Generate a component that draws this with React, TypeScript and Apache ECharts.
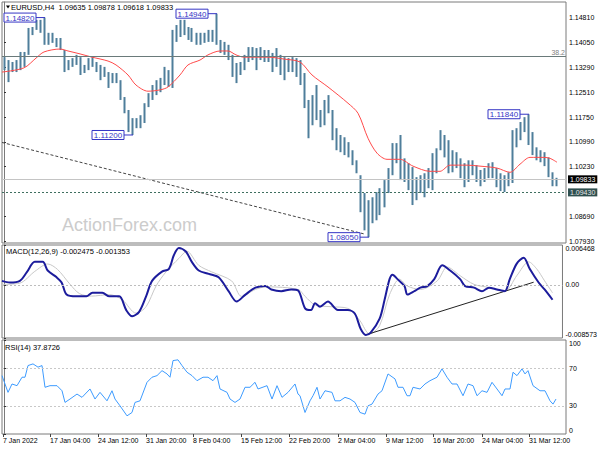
import React, { useEffect, useRef } from "react";
import * as echarts from "echarts";

const FONT = "'Liberation Sans', Arial, sans-serif";

const symbolName = "EURUSD,H4";
const lastBar = [1.09635, 1.09878, 1.09618, 1.09833];
const macdHeader = [-0.002475, -0.001353];
const rsiHeader = 37.8726;
const watermark = "ActionForex.com";
const barCount = 141;

// price bars (each column = one bar on the chart), highs and lows
const barHighs = [
  1.1360, 1.1351, 1.1345, 1.1351, 1.1376, 1.1376, 1.1450, 1.1453, 1.1475, 1.1475,
  1.1482, 1.1435, 1.1435, 1.1419, 1.1419, 1.1382, 1.1351, 1.1357, 1.1367, 1.1360,
  1.1336, 1.1357, 1.1360, 1.1345, 1.1336, 1.1330, 1.1314, 1.1311, 1.1311, 1.1289,
  1.1237, 1.1197, 1.1172, 1.1172, 1.1181, 1.1218, 1.1249, 1.1274, 1.1289, 1.1296,
  1.1330, 1.1320, 1.1444, 1.1459, 1.1475, 1.1475, 1.1453, 1.1450, 1.1435, 1.1435,
  1.1435, 1.1444, 1.1444, 1.1494, 1.1413, 1.1407, 1.1398, 1.1367, 1.1342, 1.1345,
  1.1367, 1.1391, 1.1391, 1.1388, 1.1391, 1.1382, 1.1382, 1.1373, 1.1388, 1.1367,
  1.1360, 1.1357, 1.1360, 1.1357, 1.1351, 1.1311, 1.1228, 1.1243, 1.1274, 1.1197,
  1.1228, 1.1243, 1.1197, 1.1141, 1.1120, 1.1113, 1.1098, 1.1073, 1.1042, 1.0996,
  1.0941, 1.0919, 1.0928, 1.0944, 1.0956, 1.0981, 1.1018, 1.1095, 1.1095, 1.1120,
  1.1048, 1.1033, 1.1021, 1.0990, 1.0996, 1.1002, 1.1018, 1.1064, 1.1079, 1.1135,
  1.1120, 1.1104, 1.1073, 1.1067, 1.1048, 1.1033, 1.1042, 1.1042, 1.1027, 1.1012,
  1.1018, 1.1033, 1.1036, 1.1018, 1.1002, 1.0996, 1.1005, 1.1135, 1.1141, 1.1160,
  1.1175, 1.1184, 1.1129, 1.1082, 1.1073, 1.1067, 1.1051, 1.1005, 1.0988,
];
const barLows = [
  1.1320, 1.1283, 1.1314, 1.1314, 1.1320, 1.1330, 1.1367, 1.1428, 1.1444, 1.1435,
  1.1398, 1.1398, 1.1404, 1.1391, 1.1382, 1.1314, 1.1320, 1.1330, 1.1336, 1.1305,
  1.1311, 1.1320, 1.1330, 1.1314, 1.1289, 1.1299, 1.1265, 1.1280, 1.1280, 1.1228,
  1.1187, 1.1129, 1.1120, 1.1141, 1.1141, 1.1157, 1.1206, 1.1228, 1.1243, 1.1252,
  1.1274, 1.1268, 1.1265, 1.1407, 1.1422, 1.1428, 1.1413, 1.1407, 1.1398, 1.1398,
  1.1404, 1.1407, 1.1407, 1.1398, 1.1373, 1.1367, 1.1351, 1.1299, 1.1280, 1.1305,
  1.1320, 1.1345, 1.1351, 1.1320, 1.1351, 1.1345, 1.1345, 1.1314, 1.1330, 1.1305,
  1.1289, 1.1314, 1.1314, 1.1299, 1.1274, 1.1203, 1.1110, 1.1150, 1.1166, 1.1144,
  1.1150, 1.1187, 1.1104, 1.1073, 1.1067, 1.1058, 1.1051, 1.1027, 1.1002, 1.0882,
  1.0826, 1.0805, 1.0848, 1.0857, 1.0873, 1.0897, 1.0941, 1.0996, 1.1033, 1.0981,
  1.0975, 1.0950, 1.0904, 1.0919, 1.0941, 1.0928, 1.0956, 1.0950, 1.1002, 1.1073,
  1.1051, 1.1002, 1.1005, 1.1018, 1.0987, 1.0959, 1.0975, 1.0996, 1.0975, 1.0962,
  1.0975, 1.0987, 1.0987, 1.0959, 1.0947, 1.0944, 1.0962, 1.0972, 1.1082, 1.1104,
  1.1129, 1.1089, 1.1058, 1.1042, 1.1036, 1.1024, 1.0990, 1.0962, 1.0962,
];

// moving average [bar index, price]
const maPoints = [
  [-0.5, 1.1314], [5, 1.1327], [8, 1.1357], [10, 1.1376], [14, 1.1385], [16, 1.1379],
  [19, 1.1370], [22, 1.1360], [26, 1.1348], [28, 1.1336], [31, 1.1305], [33, 1.1274],
  [36, 1.1255], [39, 1.1259], [41, 1.1268], [44, 1.1305], [46, 1.1336], [49, 1.1351],
  [51, 1.1367], [54, 1.1379], [56, 1.1379], [58, 1.1367], [60, 1.1360], [63, 1.1360],
  [66, 1.1360], [70, 1.1354], [74, 1.1345], [77, 1.1305], [81, 1.1268], [86, 1.1218],
  [88.5, 1.1187], [91, 1.1110], [93.25, 1.1064], [95.75, 1.1045], [99, 1.1045],
  [102.25, 1.1024], [106.5, 1.1008], [109, 1.1008], [111.5, 1.1027], [115.75, 1.1027],
  [119, 1.1024], [123.25, 1.1018], [126.5, 1.1005], [129, 1.1030], [131.5, 1.1051],
  [135, 1.1051], [136.5, 1.1048], [138.25, 1.1036],
];

// dotted support trendline [bar index, price]
const trendPoints = [[-0.5, 1.1097], [90, 1.0815]];

// horizontal levels
const lastPrice = 1.09833;
const supportLevel = 1.0943;
const fibLevel = 1.13617;
const fibLabel = "38.2";

// annotated extremes
const extremeBars = [10, 53, 32, 131, 91];
const extremePrices = [1.1482, 1.1494, 1.112, 1.1184, 1.0805];

// MACD main and signal [bar index, value]
const macdLine = [
  [-0.5, 0.00067], [1.5, 0.0004], [4, 0.00067], [5.75, 0.00207], [7.75, 0.00374], [9.75, 0.00374],
  [11, 0.00234], [13.25, 0.00124], [14.5, 0.0004], [15.75, -0.00155], [18.25, -0.00184],
  [20.75, -0.00184], [22.25, -0.00127], [24.75, -0.00127], [26.5, -0.00184], [29, -0.00184],
  [30.75, -0.00406], [32.25, -0.00506], [34, -0.00434], [35.75, -0.00184], [37.25, 0.00067],
  [39.75, 0.00217], [41.5, 0.00262], [42.75, 0.00485], [44, 0.00597], [45.75, 0.00541],
  [47.25, 0.00374], [49, 0.00234], [51.5, 0.00179], [54, 0.00124], [56.5, -0.001],
  [58.5, -0.00267], [60.75, -0.00155], [63.25, -0.00043], [65.75, -0.00017], [67.25, -0.00072],
  [69.75, -0.001], [72.25, -0.00072], [74, -0.00089], [75.75, -0.00378], [77.25, -0.00406],
  [78.25, -0.00294], [79.5, -0.00351], [81.5, -0.00267], [84, -0.00406], [86.5, -0.00406],
  [88.25, -0.00461], [89.75, -0.00712], [91, -0.00807], [92.25, -0.00769], [94.5, -0.00545],
  [95.75, -0.00239], [97, 0.00095], [97.75, 0.00167], [99, 0.00095], [100.75, -0.00017],
  [101.5, -0.00155], [103.25, -0.001], [104.75, -0.00043], [106.5, -0.00017], [108.25, 0.00095],
  [110.25, 0.00318], [112.25, 0.00234], [114.75, 0.00095], [116, -0.00017], [118.25, -0.00043],
  [120.25, -0.001], [122, -0.00043], [124, -0.00072], [126, -0.001], [127.25, 0.00095],
  [129, 0.00346], [130.75, 0.00441], [132.25, 0.00262], [134.5, 0.0004], [136, -0.00072],
  [138, -0.00239],
];
const macdSignal = [
  [-0.5, 0.0001], [4, 0.0003], [7.75, 0.0022], [11, 0.0034], [13.5, 0.0025], [16.5, 0.0002],
  [19, -0.0014], [22, -0.0018], [26.5, -0.00155], [29.75, -0.00239], [33.25, -0.00456],
  [35.75, -0.00351], [38.25, -0.00017], [40.75, 0.00212], [44, 0.0043], [46, 0.00546],
  [49, 0.00318], [52.25, 0.00212], [57.25, 0.00067], [59.75, -0.00184], [63.25, -0.00072],
  [66, -0.0003], [74, -0.00072], [75.75, -0.00184], [78.25, -0.00323], [82.25, -0.00351],
  [86.5, -0.00378], [89.5, -0.00573], [92, -0.00795], [94.5, -0.00657], [97, -0.00155],
  [99.5, 0.00095], [101.5, -0.00017], [104.75, -0.00072], [109, 0.00067], [111.5, 0.00291],
  [114.75, 0.0015], [118.25, 0.0001], [122.25, -0.00043], [126, -0.001], [129, 0.0015],
  [132, 0.00374], [134, 0.00262], [136, 0.00067], [138, -0.00127],
];
const macdTrend = [[91, -0.00807], [133.25, 0.00045]];

// RSI(14) [bar index, value]
const rsiLine = [
  [-0.5, 62.1], [1, 44.3], [2, 53.2], [3.25, 51.4], [4.5, 60.4], [5.25, 60.4], [6, 72.8],
  [7.25, 74.6], [8.5, 71.1], [9.5, 72.8], [10.25, 49.7], [11.5, 51.4], [13.25, 51.4],
  [14.5, 46.0], [15.25, 33.6], [16.5, 37.2], [18.25, 42.5], [19.5, 39.0], [21.5, 47.9],
  [22.75, 37.2], [24, 44.3], [25.75, 35.3], [27, 46.0], [27.75, 37.2], [29, 30.0],
  [30.75, 19.3], [32, 22.9], [32.75, 33.6], [34, 35.3], [35.75, 55.0], [37, 60.4],
  [38.25, 62.1], [39.5, 67.4], [40.75, 63.9], [41.5, 60.4], [42.25, 78.1], [43.5, 78.9],
  [44.5, 72.8], [45.75, 65.7], [47, 62.1], [48.25, 56.7], [49.75, 60.4], [51, 60.4],
  [52.25, 56.7], [53.25, 62.1], [54, 47.9], [55.75, 44.3], [56.5, 37.2], [57.75, 33.6],
  [59, 37.2], [60.25, 49.7], [61.5, 49.7], [62.75, 55.0], [63.5, 47.9], [65.75, 51.4],
  [67, 37.2], [68.25, 51.4], [69.5, 39.0], [71, 44.3], [72.75, 53.2], [73.5, 42.5],
  [74, 40.7], [75.25, 22.9], [76.5, 35.3], [77.25, 40.7], [78.25, 49.7], [79, 37.2],
  [80.25, 46.0], [82, 44.3], [82.75, 35.3], [84, 35.3], [85.25, 39.0], [86.5, 37.2],
  [87.75, 33.6], [89, 22.9], [90.25, 21.1], [91, 30.0], [92, 31.8], [93.5, 42.5],
  [94.5, 46.0], [96, 63.9], [97.75, 58.6], [98.5, 49.7], [99.75, 49.7], [100.75, 40.7],
  [101.5, 40.7], [102.25, 49.7], [104, 47.9], [105.25, 53.2], [106.5, 56.7], [108.25, 60.4],
  [109.5, 69.3], [110.75, 60.4], [112, 53.2], [113.25, 53.2], [114.75, 40.7], [116, 53.2],
  [117.25, 51.4], [118.25, 40.7], [119.5, 46.0], [120.75, 44.3], [122, 55.0], [123.25, 47.9],
  [124.5, 40.7], [125.25, 47.9], [126.5, 47.9], [127.25, 65.7], [128.25, 62.1], [129.5, 69.3],
  [130.25, 63.9], [131, 67.4], [132.25, 51.4], [134, 46.0], [135.25, 46.0], [136.5, 35.3],
  [137.25, 31.8], [138, 37.2],
];

// axis ticks
const priceTicks = [1.0793, 1.0869, 1.1023, 1.1099, 1.1175, 1.1251, 1.1329, 1.1405, 1.1481];
const macdTicks = [-0.008573, 0, 0.006468];
const rsiTicks = [0, 30, 70, 100];
const xTickBars = [-0.25, 11.5, 23.5, 35.5, 47.25, 59.25, 71.25, 83.5, 95.5, 107.25, 119.5, 131.25];
const xTickLabels = [
  "7 Jan 2022", "17 Jan 04:00", "24 Jan 12:00", "31 Jan 20:00", "8 Feb 04:00", "15 Feb 12:00",
  "22 Feb 20:00", "2 Mar 04:00", "9 Mar 12:00", "16 Mar 20:00", "24 Mar 04:00", "31 Mar 12:00",
];

const categories = Array.from({ length: barCount }, (_, i) => String(i));
const candleData = barLows.map((l, i) => [l, barHighs[i], l, barHighs[i]]);

const BAR = "#4f7e9b";
const FRAME = "#7a7a7a";

function buildOption(): any {
  const edgeX = { type: "value", min: -0.5, max: barCount - 0.5, show: false };
  return {
    animation: false,
    backgroundColor: "#ffffff",
    textStyle: { fontFamily: FONT },
    grid: [
      { left: 2, top: 2, width: 564, height: 241, show: true, borderColor: FRAME, borderWidth: 1 },
      { left: 2, top: 245, width: 564, height: 93, show: true, borderColor: FRAME, borderWidth: 1 },
      { left: 2, top: 340, width: 564, height: 94, show: true, borderColor: FRAME, borderWidth: 1 },
    ],
    xAxis: [
      { type: "category", gridIndex: 0, data: categories, boundaryGap: true, show: false },
      { ...edgeX, gridIndex: 1 },
      {
        type: "value",
        gridIndex: 2,
        min: -0.5,
        max: barCount - 0.5,
        splitLine: { show: false },
        axisLine: { show: false },
        axisTick: { show: true, customValues: xTickBars, length: 3, lineStyle: { color: "#444" } },
        axisLabel: {
          customValues: xTickBars,
          formatter: (v: number) => xTickLabels[xTickBars.indexOf(v)] ?? "",
          fontSize: 7,
          color: "#000",
          align: "left",
          margin: 3,
          fontFamily: FONT,
        },
      },
      { ...edgeX, gridIndex: 0 },
    ],
    yAxis: [
      {
        type: "value",
        gridIndex: 0,
        position: "right",
        min: 1.0787,
        max: 1.153,
        splitLine: { show: false },
        axisLine: { show: true, lineStyle: { color: FRAME } },
        axisTick: { show: true, customValues: priceTicks, length: 2, lineStyle: { color: "#333" } },
        axisLabel: {
          customValues: priceTicks,
          formatter: (v: number) => v.toFixed(5),
          fontSize: 7,
          color: "#000",
          margin: 3,
          fontFamily: FONT,
        },
      },
      {
        type: "value",
        gridIndex: 1,
        position: "right",
        min: -0.008573,
        max: 0.006468,
        splitLine: { show: false },
        axisLine: { show: true, lineStyle: { color: FRAME } },
        axisTick: { show: true, customValues: macdTicks, length: 2, lineStyle: { color: "#333" } },
        axisLabel: {
          customValues: macdTicks,
          formatter: (v: number) => (v === 0 ? "0.00" : v.toFixed(6)),
          fontSize: 7,
          color: "#000",
          margin: 3,
          verticalAlignMinLabel: "bottom",
          verticalAlignMaxLabel: "top",
          fontFamily: FONT,
        },
      },
      {
        type: "value",
        gridIndex: 2,
        position: "right",
        min: 0,
        max: 100,
        splitLine: { show: false },
        axisLine: { show: true, lineStyle: { color: FRAME } },
        axisTick: { show: true, customValues: rsiTicks, length: 2, lineStyle: { color: "#333" } },
        axisLabel: {
          customValues: rsiTicks,
          formatter: (v: number) => String(v),
          fontSize: 7,
          color: "#000",
          margin: 3,
          verticalAlignMinLabel: "bottom",
          verticalAlignMaxLabel: "top",
          fontFamily: FONT,
        },
      },
    ],
    series: [
      {
        type: "candlestick",
        xAxisIndex: 0,
        yAxisIndex: 0,
        data: candleData,
        barWidth: 2.5,
        itemStyle: { color: BAR, color0: BAR, borderColor: BAR, borderColor0: BAR, borderWidth: 0 },
      },
      {
        type: "line",
        xAxisIndex: 3,
        yAxisIndex: 0,
        data: maPoints,
        symbol: "none",
        smooth: 0.3,
        lineStyle: { color: "#ff4a4a", width: 1 },
        z: 3,
        markLine: {
          silent: true,
          precision: 6,
          symbol: ["none", "none"],
          data: [
            {
              yAxis: lastPrice,
              lineStyle: { color: "#c4c4c4", type: "solid", width: 1 },
              label: {
                show: true,
                position: "end",
                formatter: lastPrice.toFixed(5),
                color: "#ffffff",
                backgroundColor: "#000000",
                padding: [1, 2, 0, 2],
                fontSize: 7,
                distance: 2,
                fontFamily: FONT,
              },
            },
            {
              yAxis: supportLevel,
              lineStyle: { color: "#3f6f60", type: [2, 2], width: 1 },
              label: {
                show: true,
                position: "end",
                formatter: supportLevel.toFixed(5),
                color: "#e6e6e6",
                backgroundColor: "#2f4f4f",
                padding: [1, 2, 0, 2],
                fontSize: 7,
                distance: 2,
                fontFamily: FONT,
              },
            },
            {
              yAxis: fibLevel,
              lineStyle: { color: "#6a7a7a", type: "solid", width: 1 },
              label: {
                show: true,
                position: "insideEndTop",
                formatter: fibLabel,
                color: "#808080",
                fontSize: 7,
                distance: 1,
                fontFamily: FONT,
              },
            },
          ],
        },
      },
      {
        type: "line",
        xAxisIndex: 3,
        yAxisIndex: 0,
        data: trendPoints,
        symbol: "none",
        lineStyle: { color: "#444444", width: 1, type: [3, 2] },
        z: 3,
      },
      {
        type: "line",
        xAxisIndex: 1,
        yAxisIndex: 1,
        data: macdSignal,
        symbol: "none",
        smooth: 0.3,
        lineStyle: { color: "#c8c8c8", width: 1 },
        markLine: {
          silent: true,
          precision: 6,
          symbol: ["none", "none"],
          label: { show: false },
          data: [{ yAxis: 0, lineStyle: { color: "#bdbdbd", type: [2, 2], width: 1 } }],
        },
      },
      {
        type: "line",
        xAxisIndex: 1,
        yAxisIndex: 1,
        data: macdLine,
        symbol: "none",
        smooth: 0.3,
        lineStyle: { color: "#1c1c9c", width: 2 },
        z: 4,
      },
      {
        type: "line",
        xAxisIndex: 1,
        yAxisIndex: 1,
        data: macdTrend,
        symbol: "none",
        lineStyle: { color: "#222222", width: 1 },
        z: 3,
      },
      {
        type: "line",
        xAxisIndex: 2,
        yAxisIndex: 2,
        data: rsiLine,
        symbol: "none",
        lineStyle: { color: "#3d9bff", width: 1 },
        markLine: {
          silent: true,
          symbol: ["none", "none"],
          label: { show: false },
          data: [
            { yAxis: 70, lineStyle: { color: "#c8c8c8", type: [2, 2], width: 1 } },
            { yAxis: 30, lineStyle: { color: "#c8c8c8", type: [2, 2], width: 1 } },
          ],
        },
      },
    ],
  };
}

function txt(id: string, x: number, y: number, text: string, size: number, fill: string, z = 20) {
  return {
    type: "text",
    id,
    x,
    y,
    z,
    silent: true,
    style: {
      text,
      fill,
      font: `${size}px ${FONT}`,
      align: "left",
      verticalAlign: "middle",
      textAlign: "left",
      textVerticalAlign: "middle",
    },
  };
}

export default function App() {
  const ref = useRef<HTMLDivElement>(null);
  useEffect(() => {
    if (!ref.current) return;
    const chart = echarts.init(ref.current, null, { renderer: "svg" });
    chart.setOption(buildOption());

    const elements: any[] = [
      txt("wm", 62, 225, watermark, 18, "#cccccc", 0),
      {
        type: "polygon",
        id: "tri",
        z: 20,
        shape: { points: [[6, 5.5], [10, 5.5], [8, 8.5]] },
        style: { fill: "#000" },
      },
      txt("hdr", 11, 7.5, `${symbolName}  ${lastBar.map((v) => v.toFixed(5)).join(" ")}`, 7.5, "#000"),
      txt("macdh", 6, 251.5, `MACD(12,26,9) ${macdHeader.map((v) => v.toFixed(6)).join(" ")}`, 7.5, "#000"),
      txt("rsih", 5, 347.5, `RSI(14) ${rsiHeader.toFixed(4)}`, 7.5, "#000"),
    ];

    const BOX = "#3535c5";
    extremeBars.forEach((bi, k) => {
      const pt = chart.convertToPixel({ xAxisIndex: 3, yAxisIndex: 0 } as any, [bi, extremePrices[k]]) as number[];
      if (!pt) return;
      const [px, py] = pt;
      const w = 32;
      const h = 9;
      const right = Math.max(px - 8, 2 + w + 1);
      elements.push({
        type: "line",
        id: "ln" + k,
        z: 21,
        shape: { x1: right, y1: py, x2: px + 1, y2: py },
        style: { stroke: BOX, lineWidth: 1 },
      });
      elements.push({
        type: "rect",
        id: "bx" + k,
        z: 21,
        shape: { x: right - w, y: py - h / 2, width: w, height: h },
        style: { fill: "#ffffff", stroke: BOX, lineWidth: 1 },
      });
      elements.push({
        type: "text",
        id: "bt" + k,
        z: 22,
        x: right - w / 2,
        y: py + 0.5,
        style: {
          text: extremePrices[k].toFixed(5),
          fill: BOX,
          font: `8px ${FONT}`,
          align: "center",
          verticalAlign: "middle",
          textAlign: "center",
          textVerticalAlign: "middle",
        },
      });
    });

    chart.setOption({ graphic: { elements } });
    return () => chart.dispose();
  }, []);
  return (
    <div
      ref={ref}
      style={{ position: "fixed", left: 0, top: 0, width: 600, height: 450, background: "#fff" }}
    />
  );
}
